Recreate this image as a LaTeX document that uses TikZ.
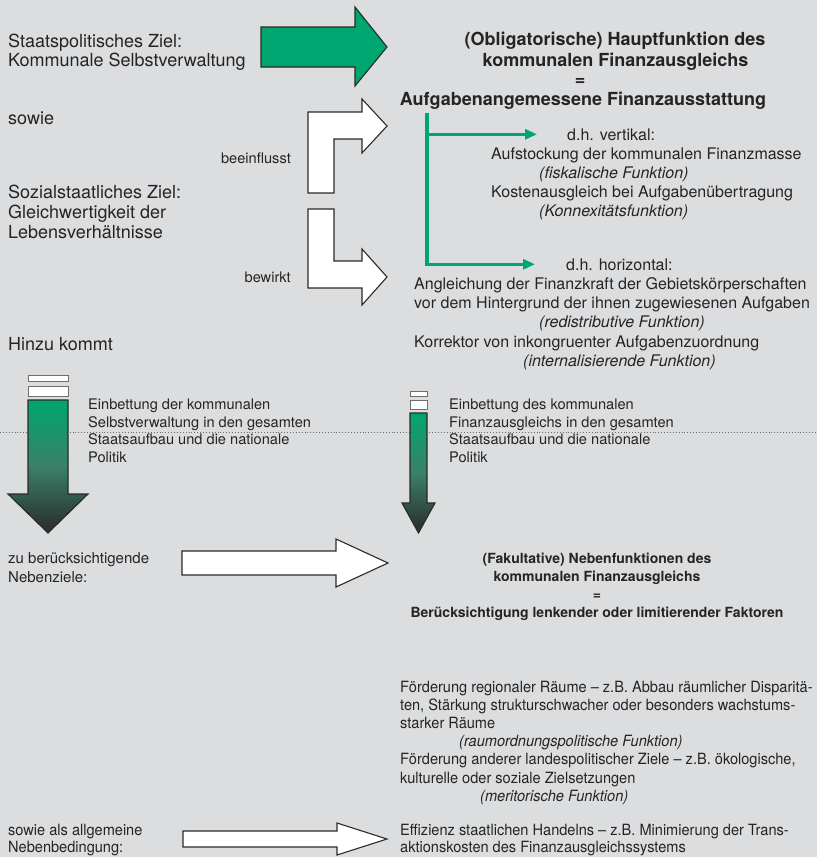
\documentclass[tikz,border=0pt]{standalone}
\usepackage{fontspec}
\setmainfont{TeX Gyre Heros}
\newfontfamily\schmal[FakeStretch=0.94]{TeX Gyre Heros}
\usetikzlibrary{arrows.meta}
\definecolor{hinter}{RGB}{220,221,223}
\definecolor{kgruen}{RGB}{0,166,112}
\definecolor{kmitte}{RGB}{58,128,104}
\definecolor{kdunkel}{RGB}{42,42,42}
\definecolor{ktext}{RGB}{36,36,36}
\definecolor{kpunkt}{RGB}{110,110,110}

\tikzset{
  gross/.style={inner sep=0pt, text=ktext, font=\fontsize{18}{19}\selectfont},
  fett/.style={inner sep=0pt, text=ktext, font=\fontsize{18}{19}\selectfont\bfseries},
  fettklein/.style={inner sep=0pt, text=ktext, font=\fontsize{14}{16}\selectfont\bfseries},
  mittel/.style={inner sep=0pt, text=ktext, font=\fontsize{16}{18}\selectfont},
  kursiv/.style={mittel, font=\fontsize{16}{18}\selectfont\itshape},
  klein/.style={inner sep=0pt, text=ktext, font=\fontsize{14.6}{17}\selectfont},
  eng/.style={inner sep=0pt, text=ktext, font=\fontsize{15.5}{18}\schmal},
  engkursiv/.style={eng, font=\fontsize{15.5}{18}\schmal\itshape},
  blockpfeil/.style={draw=kdunkel, line width=1.1pt, line join=miter, fill=white},
  kasten/.style={draw=kpunkt, line width=0.9pt, fill=white},
  gruenpfeil/.style={draw=kgruen, line width=3.5pt, line join=miter, -{Triangle[length=12pt,width=10pt]}},
}

\begin{document}
\begin{tikzpicture}[x=1pt,y=-1pt]
    \fill[hinter] (0,0) rectangle (817,857);
    \useasboundingbox (0,0) rectangle (817,857);

    % punktierte Trennlinie
    \draw[kpunkt, dotted, line width=0.9pt] (0,432) -- (817,432);

    % linke Spalte
    \node[gross, anchor=base west] (staat1) at (8,47) {Staatspolitisches Ziel:};
    \node[gross, anchor=base west] (staat2) at (8,66) {Kommunale Selbstverwaltung};
    \node[gross, anchor=base west] (sowie) at (8,124) {sowie};
    \node[gross, anchor=base west] (sozial1) at (8,198) {Sozialstaatliches Ziel:};
    \node[gross, anchor=base west] (sozial2) at (8,218) {Gleichwertigkeit der};
    \node[gross, anchor=base west] (sozial3) at (8,238) {Lebensverhältnisse};
    \node[gross, anchor=base west] (hinzu) at (8,350) {Hinzu kommt};
    \node[klein, anchor=base east] (beein) at (291,163) {beeinflusst};
    \node[klein, anchor=base east] (bewirkt) at (291,282) {bewirkt};

    % Pfeile oben
    \draw[blockpfeil, fill=kgruen] (261,27) -- (355,27) -- (355,7) -- (387,47)
        -- (355,86) -- (355,67) -- (261,67) -- cycle;
    \draw[blockpfeil] (308,193) -- (308,112) -- (362,112) -- (362,99) -- (387,126)
        -- (362,153) -- (362,139) -- (334,139) -- (334,193) -- cycle;
    \draw[blockpfeil] (308,209) -- (334,209) -- (334,261) -- (362,261) -- (362,249)
        -- (387,277) -- (362,305) -- (362,288) -- (308,288) -- cycle;

    % Hauptfunktion
    \node[fett, anchor=base] (haupt1) at (615,45) {(Obligatorische) Hauptfunktion des};
    \node[fett, anchor=base] (haupt2) at (615.5,66) {kommunalen Finanzausgleichs};
    \node[fett, anchor=base] (gleich1) at (580,85.5) {=};
    \node[fett, anchor=base] (haupt3) at (583,105) {Aufgabenangemessene Finanzausstattung};

    \node[mittel, anchor=base west] (dhv) at (567,140) {d.h. vertikal:};
    \node[mittel, anchor=base west] (v1) at (491,159) {Aufstockung der kommunalen Finanzmasse};
    \node[kursiv, anchor=base west] (v2) at (539,178) {(fiskalische Funktion)};
    \node[mittel, anchor=base west] (v3) at (491,197) {Kostenausgleich bei Aufgabenübertragung};
    \node[kursiv, anchor=base west] (v4) at (539,216) {(Konnexitätsfunktion)};

    \node[mittel, anchor=base west] (dhh) at (566,270) {d.h. horizontal:};
    \node[mittel, anchor=base west] (h1) at (414,289) {Angleichung der Finanzkraft der Gebietskörperschaften};
    \node[mittel, anchor=base west] (h2) at (414,308) {vor dem Hintergrund der ihnen zugewiesenen Aufgaben};
    \node[kursiv, anchor=base west] (h3) at (539,327) {(redistributive Funktion)};
    \node[mittel, anchor=base west] (h4) at (414,347) {Korrektor von inkongruenter Aufgabenzuordnung};
    \node[kursiv, anchor=base west] (h5) at (523,366) {(internalisierende Funktion)};

    \coordinate (gabel) at (427,113);
    \draw[gruenpfeil] (gabel) |- ([xshift=-30pt]dhv.west);
    \draw[gruenpfeil] (gabel) |- ([xshift=-31pt]dhh.west);

    % Einbettung
    \draw[kasten] (28,375) rectangle (68,381);
    \draw[kasten] (28,386) rectangle (68,396);
    \shadedraw[top color=kgruen, bottom color=kdunkel, middle color=kmitte, draw=kdunkel,
        line width=1.1pt, line join=miter] (28,400) -- (68,400) -- (68,494) -- (88,494)
        -- (48,533) -- (8,494) -- (28,494) -- cycle;
    \draw[kasten] (410,391) rectangle (427,396);
    \draw[kasten] (410,400) rectangle (427,409);
    \shadedraw[top color=kgruen, bottom color=kdunkel, middle color=kmitte, draw=kdunkel,
        line width=1.1pt, line join=miter] (410,413) -- (427,413) -- (427,503) -- (435,503)
        -- (418.5,533) -- (402,503) -- (410,503) -- cycle;

    \node[klein, anchor=base west] (el1) at (88,409) {Einbettung der kommunalen};
    \node[klein, anchor=base west] (el2) at (88,427) {Selbstverwaltung in den gesamten};
    \node[klein, anchor=base west] (el3) at (88,444) {Staatsaufbau und die nationale};
    \node[klein, anchor=base west] (el4) at (88,462) {Politik};
    \node[klein, anchor=base west] (er1) at (449,409) {Einbettung des kommunalen};
    \node[klein, anchor=base west] (er2) at (449,427) {Finanzausgleichs in den gesamten};
    \node[klein, anchor=base west] (er3) at (449,444) {Staatsaufbau und die nationale};
    \node[klein, anchor=base west] (er4) at (449,462) {Politik};

    % Nebenfunktionen
    \node[klein, font=\fontsize{15}{18}\selectfont, anchor=base west] (zu1) at (8,563) {zu berücksichtigende};
    \node[klein, font=\fontsize{15}{18}\selectfont, anchor=base west] (zu2) at (8,582) {Nebenziele:};
    \draw[blockpfeil] (182,551) -- (336,551) -- (336,539) -- (388,563) -- (336,587)
        -- (336,575) -- (182,575) -- cycle;

    \node[fettklein, anchor=base] (neben1) at (597,563) {(Fakultative) Nebenfunktionen des};
    \node[fettklein, anchor=base] (neben2) at (597,581) {kommunalen Finanzausgleichs};
    \node[fettklein, anchor=base] (gleich2) at (597,599) {=};
    \node[fettklein, anchor=base] (neben3) at (597,617) {Berücksichtigung lenkender oder limitierender Faktoren};

    \node[eng, anchor=base west] (f1) at (400,692) {Förderung regionaler Räume – z.B. Abbau räumlicher Disparitä-};
    \node[eng, anchor=base west] (f2) at (400,710.2) {ten, Stärkung strukturschwacher oder besonders wachstums-};
    \node[eng, anchor=base west] (f3) at (400,728.4) {starker Räume};
    \node[engkursiv, anchor=base west] (f4) at (459,746.6) {(raumordnungspolitische Funktion)};
    \node[eng, anchor=base west] (f5) at (400,764.8) {Förderung anderer landespolitischer Ziele – z.B. ökologische,};
    \node[eng, anchor=base west] (f6) at (400,783) {kulturelle oder soziale Zielsetzungen};
    \node[engkursiv, anchor=base west] (f7) at (480,801.2) {(meritorische Funktion)};

    % Nebenbedingung
    \node[eng, anchor=base west] (sa1) at (8,835) {sowie als allgemeine};
    \node[eng, anchor=base west] (sa2) at (8,852.5) {Nebenbedingung:};
    \draw[blockpfeil] (183,831) -- (337,831) -- (337,823) -- (387,839) -- (337,855)
        -- (337,847) -- (183,847) -- cycle;
    \node[eng, anchor=base west] (eff1) at (400,835) {Effizienz staatlichen Handelns – z.B. Minimierung der Trans-};
    \node[eng, anchor=base west] (eff2) at (400,852.5) {aktionskosten des Finanzausgleichssystems};
\end{tikzpicture}
\end{document}
